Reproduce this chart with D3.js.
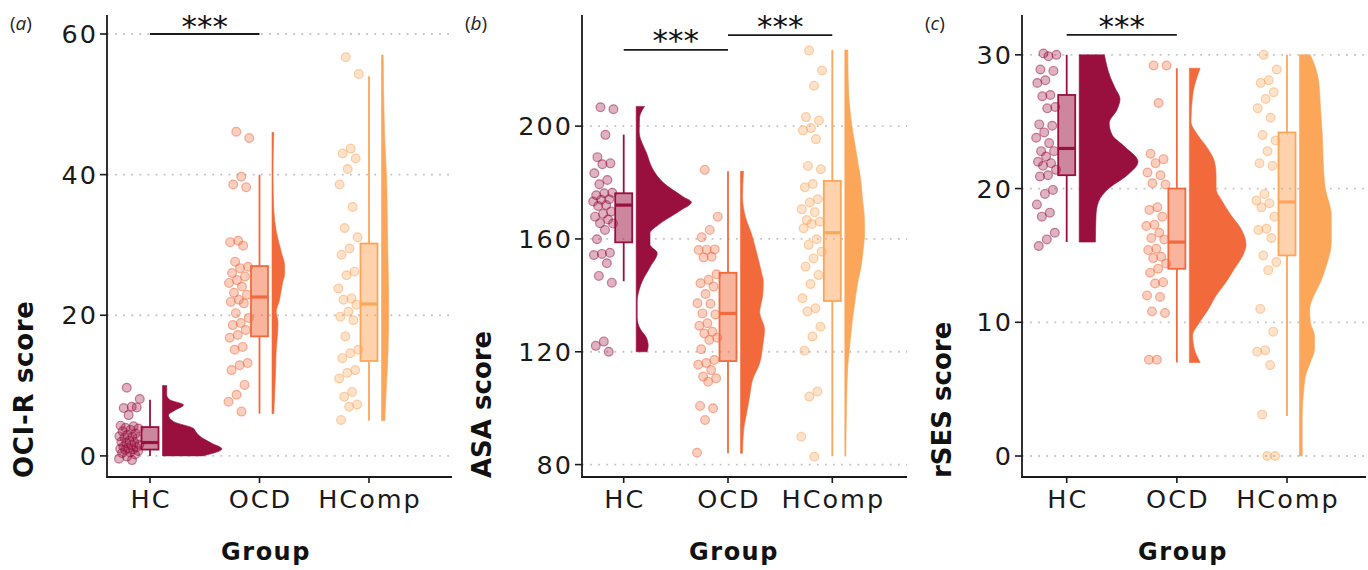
<!DOCTYPE html>
<html><head><meta charset="utf-8">
<script src="https://cdn.jsdelivr.net/npm/d3@7"></script>
<style>body{margin:0;background:#fff} svg{display:block}</style>
</head><body>
<svg id="chart" width="1368" height="570"></svg>
<script>
// ---------------- data ----------------
const groups = ["HC", "OCD", "HComp"];

// Panel (a) OCI-R
const ociTicks = [0, 20, 40, 60];
const ociPoints = [
  [9.7, 8.1, 7.0, 6.8, 6.9, 5.8, 4.3, 4.2, 4.0, 3.9, 3.7, 3.5, 3.2, 3.0, 2.8, 2.75, 2.6, 2.5, 2.2, 2.0, 1.9, 1.8, 1.6, 1.5, 1.3, 1.2, 1.1, 1.0, 0.9, 0.85, 0.7, 0.5, 0.4, 0.2, -0.1, -0.4, -0.6],
  [46.1, 45.2, 39.7, 38.6, 38.2, 30.6, 30.4, 29.9, 27.6, 26.9, 26.7, 26.0, 25.5, 25.0, 24.6, 24.1, 23.2, 22.9, 22.2, 21.9, 21.7, 20.3, 19.6, 18.9, 18.6, 17.9, 17.2, 16.8, 15.5, 15.1, 13.2, 12.9, 12.2, 10.1, 8.7, 7.7, 6.3],
  [56.7, 54.3, 43.7, 43.0, 42.3, 40.8, 38.6, 35.4, 32.4, 31.1, 29.5, 28.6, 26.2, 25.7, 23.8, 22.4, 22.2, 21.5, 20.5, 19.8, 19.3, 17.0, 15.1, 14.6, 13.9, 12.2, 11.8, 11.0, 9.1, 8.4, 7.3, 7.0, 5.1]
];
// [q1, median, q3, lower whisker, upper whisker]
const ociBoxes = [[0.9, 1.9, 4.1, 0, 8], [17, 22.6, 27, 6, 40], [13.5, 21.6, 30.2, 5, 54]];
// [value, relative density]
const ociDensity = [
  [[0, 0.67], [1, 0.99], [1.8, 0.82], [2.75, 0.63], [3.5, 0.55], [3.9, 0.52], [4.9, 0.18], [5.8, 0.10], [6.5, 0.21], [7.25, 0.35], [8.0, 0.12], [8.7, 0.07], [10, 0.07]],
  [[6, 0.03], [9, 0.045], [12, 0.06], [15, 0.07], [17, 0.09], [19, 0.1], [20.5, 0.07], [22, 0.12], [24.8, 0.18], [25.8, 0.21], [27, 0.21], [29, 0.155], [32, 0.07], [35, 0.03], [40, 0.017], [46, 0.03]],
  [[5, 0.055], [10, 0.083], [15, 0.11], [22, 0.12], [27, 0.11], [32, 0.1], [40, 0.083], [45, 0.055], [52, 0.035], [57, 0.028]]
];
const ociSig = [["HC", "OCD"]];

// Panel (b) ASA
const asaTicks = [80, 120, 160, 200];
const asaPoints = [
  [206.7, 206, 196.9, 189, 186.8, 186.5, 183.3, 180.9, 179.4, 176.4, 176.2, 175.5, 174.1, 173.9, 173.3, 172, 171.7, 169.7, 168.9, 167.9, 166.9, 165.6, 165.5, 163.2, 159.9, 155.1, 154.7, 154.3, 151.4, 146.9, 144.5, 123.6, 122.1, 120],
  [184.5, 167.9, 163.2, 160.6, 156.3, 156.2, 156.1, 153.7, 153.4, 147.5, 145.5, 144.3, 143.1, 140.5, 137.2, 137, 133.6, 133.2, 130.1, 129.2, 127.1, 126.5, 125, 124.2, 120.9, 117.1, 116, 115.4, 113.5, 111.2, 110.6, 109.4, 100.8, 100, 95.8, 84.2],
  [226.8, 219.7, 214.3, 203.2, 202, 199.3, 198.5, 195.4, 185.9, 184.7, 179.5, 178.3, 174.1, 172.9, 170.5, 169.5, 166.7, 166.1, 165.3, 163.8, 159.9, 157.9, 155.5, 153.1, 150.2, 147.2, 144, 139, 135.4, 134.3, 128.9, 125.4, 120.4, 105.9, 104.1, 89.9, 82.8]
];
const asaBoxes = [[158.8, 172, 176.2, 145, 197], [116.7, 133.6, 148, 84, 184], [138, 162.2, 180.6, 83, 227]];
const asaDensity = [
  [[120, 0.18], [122, 0.2], [125, 0.17], [128, 0.07], [132, 0.017], [138, 0.017], [142, 0.05], [145, 0.1], [150, 0.23], [155, 0.35], [158, 0.23], [162, 0.23], [165, 0.37], [170, 0.73], [173, 0.92], [175, 0.78], [180, 0.45], [185, 0.27], [190, 0.18], [198, 0.05], [203, 0.055], [207, 0.14]],
  [[84, 0.033], [92, 0.05], [98, 0.1], [104, 0.15], [110, 0.2], [116, 0.32], [122, 0.37], [128, 0.4], [134, 0.32], [140, 0.37], [145, 0.38], [148, 0.35], [155, 0.27], [162, 0.18], [168, 0.08], [175, 0.033], [184, 0.05]],
  [[83, 0.017], [100, 0.028], [115, 0.05], [120, 0.072], [126, 0.1], [132, 0.13], [138, 0.17], [144, 0.21], [150, 0.27], [156, 0.305], [162, 0.33], [168, 0.325], [174, 0.295], [180, 0.27], [192, 0.18], [203, 0.1], [215, 0.058], [227, 0.05]]
];
const asaSig = [["HC", "OCD"], ["OCD", "HComp"]];

// Panel (c) rSES
const rsesTicks = [0, 10, 20, 30];
const rsesPoints = [
  [30.1, 30, 29.9, 28.9, 28.8, 28.1, 27.9, 27, 26.9, 26.1, 26, 24.8, 24.7, 24.2, 23.8, 23.4, 22.8, 22.8, 22.4, 22, 21.9, 21.7, 21.4, 21, 20.9, 19.9, 19.6, 18.8, 18.2, 17.9, 16.7, 16.2, 15.7],
  [29.2, 29.2, 26.4, 22.6, 22.2, 21.9, 21.2, 21, 20.4, 20.3, 18.6, 18.4, 17.9, 17.3, 17.2, 16.7, 16.3, 16.2, 15.5, 15.4, 14.9, 14.8, 14.4, 14, 13.7, 13, 12.9, 12, 11.9, 10.8, 10.7, 7.2, 7.2],
  [30, 28.9, 28.1, 27.9, 27.2, 26.7, 26, 25.3, 24, 23.6, 22.8, 21.9, 21.7, 19.6, 19.1, 18.9, 18.6, 17.9, 17, 16.9, 16.3, 15, 14.5, 13.9, 11, 9.3, 7.9, 7.8, 6.8, 3.1, 0, 0]
];
const rsesBoxes = [[21, 23, 27, 16, 30], [14, 16, 20, 7, 29], [15, 19, 24.2, 3, 30]];
const rsesDensity = [
  [[16, 0.27], [18, 0.28], [19, 0.32], [20, 0.49], [21, 0.8], [22, 0.98], [23.2, 0.74], [24, 0.55], [24.9, 0.5], [25.9, 0.63], [26.7, 0.68], [27.5, 0.6], [28.3, 0.52], [30, 0.42]],
  [[7, 0.18], [8, 0.083], [9, 0.055], [10, 0.17], [11, 0.32], [12, 0.445], [13, 0.61], [14, 0.75], [15, 0.89], [15.8, 0.945], [17, 0.86], [18, 0.695], [19, 0.555], [20, 0.445], [21, 0.445], [22, 0.42], [23, 0.305], [24, 0.14], [25, 0.028], [27, 0.055], [28.5, 0.14], [29, 0.18]],
  [[0, 0.045], [3, 0.045], [5, 0.072], [6, 0.1], [7, 0.18], [8, 0.25], [9, 0.25], [10, 0.18], [11, 0.17], [12, 0.24], [13, 0.35], [14, 0.43], [16, 0.53], [18, 0.53], [20, 0.43], [22, 0.395], [24, 0.38], [26, 0.35], [28, 0.32], [29, 0.27], [30, 0.18]]
];
const rsesSig = [["HC", "OCD"]];

// ---------------- layout / style ----------------
const colors = ["#990F3D", "#F26A3B", "#FCA65A"];
const FONT = "'DejaVu Sans', sans-serif";
const svg = d3.select("#chart");

const panels = [
  { tag: "a", title: "OCI-R score", ticks: ociTicks, points: ociPoints, boxes: ociBoxes, density: ociDensity, sig: ociSig,
    x0: 107, x1: 452, cat: [150, 369], domain: [-3, 62.7], sigLevels: [60], starDy: [3], groupX: 265, titleX: 33, tagX: 10 },
  { tag: "b", title: "ASA score", ticks: asaTicks, points: asaPoints, boxes: asaBoxes, density: asaDensity, sig: asaSig,
    x0: 582, x1: 907, cat: [623.7, 832.3], domain: [75.6, 239.4], sigLevels: [227, 232.3], starDy: [1, 2], groupX: 733, titleX: 491, tagX: 465 },
  { tag: "c", title: "rSES score", ticks: rsesTicks, points: rsesPoints, boxes: rsesBoxes, density: rsesDensity, sig: rsesSig,
    x0: 1022, x1: 1366, cat: [1066.7, 1287], domain: [-1.57, 32.98], sigLevels: [31.5], starDy: [2], groupX: 1182, titleX: 951, tagX: 925 }
];

const yTop = 15, yBot = 477;
const widthScale = d3.scaleLinear().domain([0, 1]).range([0, 60]);

panels.forEach(p => {
  const g = svg.append("g");
  const x = d3.scalePoint().domain(groups).range(p.cat);
  const y = d3.scaleLinear().domain(p.domain).range([yBot, yTop]);

  // grid
  g.append("g").selectAll("line").data(p.ticks).join("line")
    .attr("x1", p.x0).attr("x2", p.x1)
    .attr("y1", d => y(d)).attr("y2", d => y(d))
    .attr("stroke", "#c4c4c4").attr("stroke-width", 1.8)
    .attr("stroke-dasharray", "1.8,6.3");

  groups.forEach((grp, gi) => {
    const cx = x(grp);
    const col = colors[gi];

    // points (deterministic low-discrepancy jitter to the left of the box)
    g.append("g").selectAll("circle").data(p.points[gi]).join("circle")
      .attr("cx", (d, i) => cx - 31 + 21 * (((i * 0.6180339) + 0.37) % 1))
      .attr("cy", d => y(d))
      .attr("r", 4.4)
      .attr("fill", col).attr("fill-opacity", 0.32)
      .attr("stroke", col).attr("stroke-opacity", 0.5).attr("stroke-width", 1.2);

    // box
    const [q1, med, q3, lo, hi] = p.boxes[gi];
    const bw = 17;
    g.append("line").attr("x1", cx).attr("x2", cx).attr("y1", y(hi)).attr("y2", y(q3))
      .attr("stroke", col).attr("stroke-width", 1.8);
    g.append("line").attr("x1", cx).attr("x2", cx).attr("y1", y(q1)).attr("y2", y(lo))
      .attr("stroke", col).attr("stroke-width", 1.8);
    g.append("rect").attr("x", cx - bw / 2).attr("width", bw)
      .attr("y", y(q3)).attr("height", y(q1) - y(q3))
      .attr("fill", col).attr("fill-opacity", 0.5)
      .attr("stroke", col).attr("stroke-width", 1.8);
    g.append("line").attr("x1", cx - bw / 2).attr("x2", cx + bw / 2).attr("y1", y(med)).attr("y2", y(med))
      .attr("stroke", col).attr("stroke-width", 3.2);

    // half violin
    const base = cx + 12.5;
    const dens = p.density[gi].slice().sort((a, b) => b[0] - a[0]);
    const area = d3.area().curve(d3.curveMonotoneY)
      .y(d => y(d[0])).x0(base).x1(d => base + widthScale(d[1]));
    g.append("path").attr("d", area(dens)).attr("fill", col).attr("stroke", col).attr("stroke-width", 0.6);
  });

  // axes
  g.append("line").attr("x1", p.x0).attr("x2", p.x0).attr("y1", yTop).attr("y2", yBot)
    .attr("stroke", "#1a1a1a").attr("stroke-width", 1.8);
  g.append("line").attr("x1", p.x0 - 0.9).attr("x2", p.x1).attr("y1", yBot).attr("y2", yBot)
    .attr("stroke", "#1a1a1a").attr("stroke-width", 1.8);

  // y ticks
  const yt = g.append("g").selectAll("g").data(p.ticks).join("g");
  yt.append("line").attr("x1", p.x0 - 7).attr("x2", p.x0).attr("y1", d => y(d)).attr("y2", d => y(d))
    .attr("stroke", "#1a1a1a").attr("stroke-width", 1.6);
  yt.append("text").attr("x", p.x0 - 9).attr("y", d => y(d)).attr("dy", "0.36em")
    .attr("text-anchor", "end").attr("font-family", FONT).attr("font-size", 25.5)
    .attr("letter-spacing", 2).attr("fill", "#1a1a1a").text(d => d);

  // x ticks
  const xt = g.append("g").selectAll("g").data(groups).join("g");
  xt.append("line").attr("x1", d => x(d)).attr("x2", d => x(d)).attr("y1", yBot).attr("y2", yBot + 6)
    .attr("stroke", "#1a1a1a").attr("stroke-width", 1.6);
  xt.append("text").attr("x", d => x(d) + 1).attr("y", 508)
    .attr("text-anchor", "middle").attr("font-family", FONT).attr("font-size", 25.5)
    .attr("letter-spacing", 2).attr("fill", "#1a1a1a").text(d => d);

  // axis titles
  g.append("text").attr("x", p.groupX + 1).attr("y", 560).attr("text-anchor", "middle")
    .attr("font-family", FONT).attr("font-weight", "bold").attr("font-size", 24)
    .attr("letter-spacing", 1.5).attr("fill", "#111").text("Group");
  g.append("text").attr("transform", `translate(${p.titleX},478) rotate(-90)`)
    .attr("text-anchor", "start").attr("font-family", FONT).attr("font-weight", "bold")
    .attr("font-size", 26).attr("letter-spacing", p.tag === "a" ? 0.7 : 0).attr("fill", "#111").text(p.title);

  // panel tag
  const t = g.append("text").attr("x", p.tagX).attr("y", 30)
    .attr("font-family", "'Open Sans', sans-serif").attr("font-size", 19).attr("fill", "#222");
  t.append("tspan").text("(");
  t.append("tspan").attr("font-style", "italic").text(p.tag);
  t.append("tspan").text(")");

  // significance bars
  p.sig.forEach((pair, si) => {
    const lx = x(pair[0]), rx = x(pair[1]);
    const ly = y(p.sigLevels[si]);
    g.append("line").attr("x1", lx).attr("x2", rx).attr("y1", ly).attr("y2", ly)
      .attr("stroke", "#1a1a1a").attr("stroke-width", 1.8);
    g.append("text").attr("x", (lx + rx) / 2).attr("y", ly + p.starDy[si])
      .attr("text-anchor", "middle").attr("font-family", FONT).attr("font-size", 31)
      .attr("fill", "#111").text("***");
  });
});
</script>
</body></html>
